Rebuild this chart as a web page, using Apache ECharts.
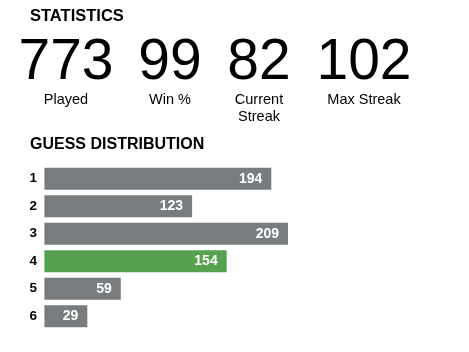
<!DOCTYPE html>
<html>
<head>
  <meta charset="utf-8">
  <title>Statistics</title>
  <script src="https://cdn.jsdelivr.net/npm/echarts@6/dist/echarts.min.js"></script>
  <style>
    html, body { margin: 0; padding: 0; background: #fff; }
    #main { width: 469px; height: 352px; }
  </style>
</head>
<body>
  <div id="main"></div>
  <script>
    // data
    var guessLabels = ['1', '2', '3', '4', '5', '6'];
    var guessCounts = [194, 123, 209, 154, 59, 29];
    var currentGuess = 3; // index of the highlighted (green) row
    var statValues = ['773', '99', '82', '102'];
    var statLabels = ['Played', 'Win %', 'Current\nStreak', 'Max Streak'];

    var FONT = 'Liberation Sans, Arial, sans-serif';
    var GRAY = '#787c7e';
    var GREEN = '#56a14f';
    var PAD = 10.6; // bar padding left of zero

    var statX = [66, 170, 259, 364];

    var graphics = [
      { type: 'text', left: 30, top: 8, style: { text: 'STATISTICS', font: 'bold 16.5px ' + FONT, fill: '#000' } },
      { type: 'text', left: 30, top: 137, style: { text: 'GUESS DISTRIBUTION', font: 'bold 16px ' + FONT, fill: '#000' } }
    ];
    statValues.forEach(function (v, i) {
      graphics.push({
        type: 'text', x: statX[i], y: 63.5,
        style: { text: v, font: '57px ' + FONT, fill: '#000', align: 'center', verticalAlign: 'middle' }
      });
      graphics.push({
        type: 'text', x: statX[i], y: 91,
        style: { text: statLabels[i], font: '14.5px ' + FONT, fill: '#000', align: 'center', verticalAlign: 'top', lineHeight: 17 }
      });
    });

    var chart = echarts.init(document.getElementById('main'));
    chart.setOption({
      animation: false,
      graphic: graphics,
      grid: { left: 55, top: 165, width: 233, height: 165 },
      xAxis: { type: 'value', min: 0, max: 209, show: false },
      yAxis: {
        type: 'category', data: guessLabels, inverse: true,
        axisLine: { show: false }, axisTick: { show: false },
        axisLabel: { margin: 18, color: '#000', fontWeight: 'bold', fontSize: 13.5, fontFamily: FONT }
      },
      series: [{
        type: 'custom',
        data: guessCounts.map(function (v, i) { return [v, i]; }),
        renderItem: function (params, api) {
          var v = api.value(0);
          var idx = api.value(1);
          var start = api.coord([0, idx]);
          var end = api.coord([v, idx]);
          var h = api.size([0, 1])[1] * 0.8;
          var x0 = start[0] - PAD;
          return {
            type: 'group',
            children: [
              { type: 'rect', shape: { x: x0, y: end[1] - h / 2, width: end[0] - x0, height: h },
                style: { fill: idx === currentGuess ? GREEN : GRAY } },
              { type: 'text', style: { text: String(v), x: end[0] - 9, y: end[1], align: 'right', verticalAlign: 'middle',
                fill: '#fff', font: 'bold 14px ' + FONT } }
            ]
          };
        }
      }]
    });
  </script>
</body>
</html>
